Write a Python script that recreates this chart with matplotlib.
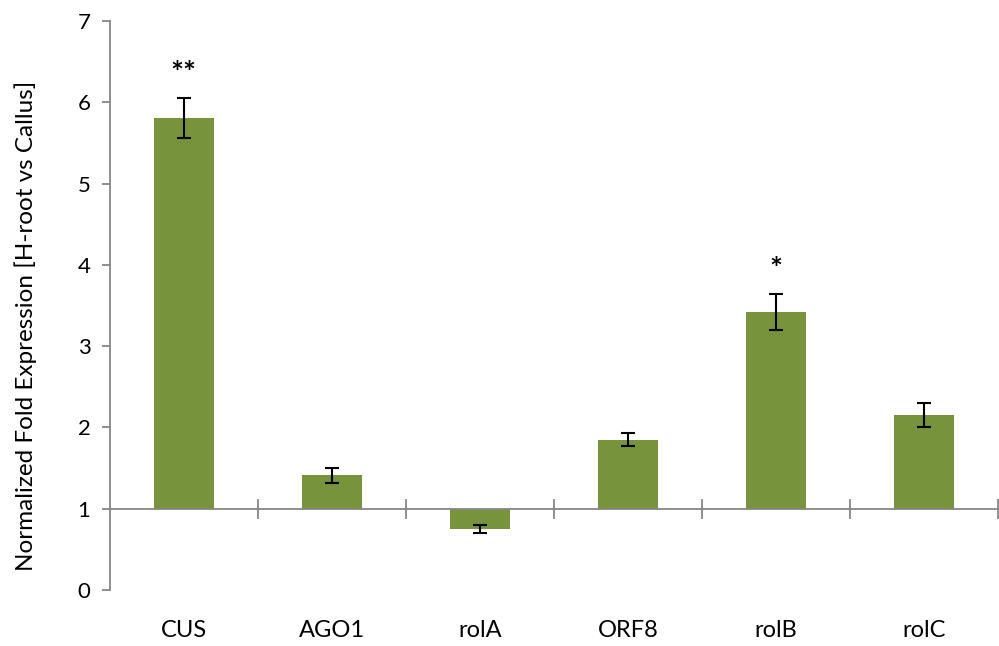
import numpy as np
import matplotlib.pyplot as plt

genes = ['CUS', 'AGO1', 'rolA', 'ORF8', 'rolB', 'rolC']
fold = [5.81, 1.41, 0.75, 1.85, 3.42, 2.15]
err = [0.245, 0.095, 0.045, 0.08, 0.22, 0.15]
stars = ['**', '', '', '', '*', '']

plt.rcParams['font.family'] = ['Lato', 'DejaVu Sans']

fig = plt.figure(figsize=(9.99, 6.46), dpi=100)
ax = fig.add_axes([0.110, 0.0867, 0.889, 0.8808])

x = np.arange(len(genes))
base = 1.0
ax.bar(x, np.array(fold) - base, bottom=base, width=0.4, color='#77933C', zorder=2)
ax.errorbar(x, fold, yerr=err, fmt='none', ecolor='black', elinewidth=1.5,
            capsize=5, capthick=1.5, zorder=3)
for xi, f, e, s in zip(x, fold, err, stars):
    if s:
        ax.text(xi, f + e + 0.12, s, ha='center', va='bottom', fontsize=22, fontweight='bold')

ax.set_xlim(-0.5, len(genes) - 0.5)
ax.set_ylim(0, 7)
ax.set_yticks(range(0, 8))
ax.set_ylabel('Normalized Fold Expression [H-root vs Callus]', fontsize=17.5)
ax.yaxis.set_label_coords(-0.082, 0.464)

gray = '#868686'
for s in ['top', 'right']:
    ax.spines[s].set_visible(False)
ax.spines['left'].set_color(gray)
ax.spines['left'].set_linewidth(1.3)
ax.spines['bottom'].set_position(('data', base))
ax.spines['bottom'].set_color(gray)
ax.spines['bottom'].set_linewidth(1.3)

ax.tick_params(axis='y', direction='out', length=6, color=gray, width=1.3, labelsize=16, pad=8)
ax.set_xticks(x)
ax.set_xticklabels(genes)
ax.tick_params(axis='x', which='major', length=0, labelsize=17, pad=80)
ax.set_xticks(np.arange(0.5, len(genes), 1.0), minor=True)
ax.tick_params(axis='x', which='minor', direction='inout', length=14, color=gray, width=1.3)

fig.savefig('out.png', dpi=100)
